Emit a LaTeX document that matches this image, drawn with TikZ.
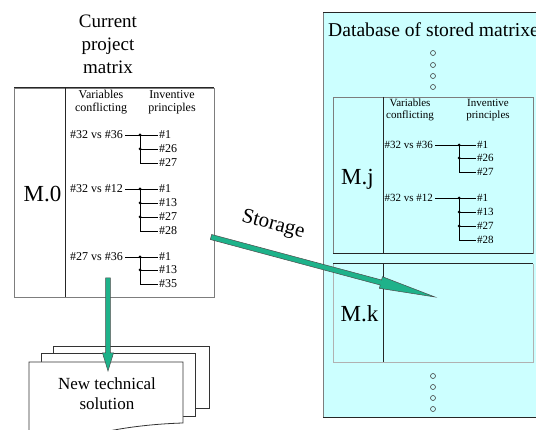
\documentclass[tikz,border=0pt]{standalone}
\usepackage{fontspec}
\setmainfont{Liberation Serif}
\usetikzlibrary{calc}
\definecolor{dbcyan}{RGB}{204,255,255}
\definecolor{arrgreen}{RGB}{30,178,138}
\definecolor{framegray}{RGB}{125,125,125}
\tikzset{
 sm/.style={font=\fontsize{12}{13}\selectfont, inner sep=0pt},
 smr/.style={font=\fontsize{11}{12}\selectfont, inner sep=0pt},
 hdr/.style={font=\fontsize{12}{13}\selectfont, align=center, inner sep=0pt},
 hdrr/.style={font=\fontsize{11}{12}\selectfont, align=center, inner sep=0pt},
 big/.style={font=\fontsize{23}{26}\selectfont, inner sep=0pt},
 tline/.style={line width=0.6pt},
 boxline/.style={draw=framegray, line width=0.9pt},
 darkline/.style={draw=black!85, line width=1pt},
 bigarrow/.style={fill=arrgreen, draw=black!70, line width=0.5pt, line join=miter},
 doc/.style={fill=white, draw=black!80, line width=0.8pt},
 dbdot/.style={circle, draw=black!75, line width=0.6pt, minimum size=5pt, inner sep=0pt},
 jdot/.style={circle, fill=black, minimum size=3pt, inner sep=0pt},
}
\begin{document}
\begin{tikzpicture}[x=1pt,y=-1pt]
\useasboundingbox (0,0) rectangle (536,430);
\fill[white] (0,0) rectangle (536,430);

% ---------- database ----------
\fill[dbcyan] (323,13) rectangle (545,418);
\draw[boxline] (323,13) -- (323,418);
\draw[darkline] (323,13) -- (545,13);
\draw[darkline] (323,418) -- (545,418);
\node[anchor=base west, inner sep=0pt, font=\fontsize{19.6}{23}\selectfont] (dbt) at (328,37) {Database of stored matrixes};
\node[dbdot] (d1) at (433,53) {};
\node[dbdot] (d2) at (433,65) {};
\node[dbdot] (d3) at (433,76) {};
\node[dbdot] (d4) at (433,87) {};
\node[dbdot] (d5) at (433,376) {};
\node[dbdot] (d6) at (433,387) {};
\node[dbdot] (d7) at (433,398) {};
\node[dbdot] (d8) at (433,409) {};

% M.j box
\draw[boxline] (333,254) -- (333,97) -- (533,97) -- (533,254);
\draw[darkline] (333,254) -- (533,254);
\draw[darkline] (383,97) -- (383,254);
\node[big, anchor=base] (mj) at (357.5,185) {M.j};
\node[hdrr] (hj1) at (410,110) {Variables\\conflicting};
\node[hdrr] (hj2) at (488,110) {Inventive\\principles};
% row 1
\node[smr,anchor=east] (b1) at (433,145) {\#32 vs \#36};
\node[smr,anchor=west] (b1x) at (477,145) {\#1};
\node[smr,anchor=west] (b1y) at (477,158) {\#26};
\node[smr,anchor=west] (b1z) at (477,172) {\#27};
\coordinate (b1j) at (459,145);
\draw[tline] ([xshift=2pt]b1.east) -- ([xshift=-1pt]b1x.west);
\draw[tline] (b1j) |- ([xshift=-1pt]b1z.west);
\draw[tline] (b1j |- b1y) -- ([xshift=-1pt]b1y.west);
\node[jdot] at (b1j) {};
\node[jdot] at (b1j |- b1y) {};
% row 2
\node[smr,anchor=east] (b2) at (433,198) {\#32 vs \#12};
\node[smr,anchor=west] (b2w) at (477,198) {\#1};
\node[smr,anchor=west] (b2x) at (477,212) {\#13};
\node[smr,anchor=west] (b2y) at (477,226) {\#27};
\node[smr,anchor=west] (b2z) at (477,240) {\#28};
\coordinate (b2j) at (459,198);
\draw[tline] ([xshift=2pt]b2.east) -- ([xshift=-1pt]b2w.west);
\draw[tline] (b2j) |- ([xshift=-1pt]b2z.west);
\draw[tline] (b2j |- b2x) -- ([xshift=-1pt]b2x.west);
\draw[tline] (b2j |- b2y) -- ([xshift=-1pt]b2y.west);
\node[jdot] at (b2j) {};
\node[jdot] at (b2j |- b2x) {};
\node[jdot] at (b2j |- b2y) {};

% M.k box
\draw[draw=framegray!60, line width=0.9pt] (333,264) -- (333,362) -- (533,362) -- (533,264);
\draw[darkline] (333,264) -- (533,264);
\draw[darkline] (383,264) -- (383,362);
\node[big, anchor=base] (mk) at (359.5,322) {M.k};

% ---------- current project matrix ----------
\node[align=center, inner sep=0pt, font=\fontsize{19}{23}\selectfont] (title) at (108,44) {Current\\project\\matrix};
\draw[boxline] (14,88) rectangle (214,297);
\draw[darkline] (14,88) -- (214,88);
\draw[darkline] (65,88) -- (65,297);
\node[big, anchor=base] (m0) at (42.5,202) {M.0};
\node[hdr] (ha1) at (101,102) {Variables\\conflicting};
\node[hdr] (ha2) at (172,102) {Inventive\\principles};
% row 1
\node[sm,anchor=east] (a1) at (123,135) {\#32 vs \#36};
\node[sm,anchor=west] (a1x) at (159,135) {\#1};
\node[sm,anchor=west] (a1y) at (159,149) {\#26};
\node[sm,anchor=west] (a1z) at (159,163) {\#27};
\coordinate (a1j) at (140,135);
\draw[tline] ([xshift=2pt]a1.east) -- ([xshift=-1pt]a1x.west);
\draw[tline] (a1j) |- ([xshift=-1pt]a1z.west);
\draw[tline] (a1j |- a1y) -- ([xshift=-1pt]a1y.west);
\node[jdot] at (a1j) {};
\node[jdot] at (a1j |- a1y) {};
% row 2
\node[sm,anchor=east] (a2) at (123,189) {\#32 vs \#12};
\node[sm,anchor=west] (a2w) at (159,189) {\#1};
\node[sm,anchor=west] (a2x) at (159,203) {\#13};
\node[sm,anchor=west] (a2y) at (159,217) {\#27};
\node[sm,anchor=west] (a2z) at (159,231) {\#28};
\coordinate (a2j) at (140,189);
\draw[tline] ([xshift=2pt]a2.east) -- ([xshift=-1pt]a2w.west);
\draw[tline] (a2j) |- ([xshift=-1pt]a2z.west);
\draw[tline] (a2j |- a2x) -- ([xshift=-1pt]a2x.west);
\draw[tline] (a2j |- a2y) -- ([xshift=-1pt]a2y.west);
\node[jdot] at (a2j) {};
\node[jdot] at (a2j |- a2x) {};
\node[jdot] at (a2j |- a2y) {};
% row 3
\node[sm,anchor=east] (a3) at (123,257) {\#27 vs \#36};
\node[sm,anchor=west] (a3x) at (159,257) {\#1};
\node[sm,anchor=west] (a3y) at (159,270) {\#13};
\node[sm,anchor=west] (a3z) at (159,284) {\#35};
\coordinate (a3j) at (140,257);
\draw[tline] ([xshift=2pt]a3.east) -- ([xshift=-1pt]a3x.west);
\draw[tline] (a3j) |- ([xshift=-1pt]a3z.west);
\draw[tline] (a3j |- a3y) -- ([xshift=-1pt]a3y.west);
\node[jdot] at (a3j) {};
\node[jdot] at (a3j |- a3y) {};

% ---------- documents ----------
\draw[doc] (53,346) rectangle (209,408);
\draw[doc] (41,353) rectangle (195,416);
\draw[doc] (29,445) -- (29,362) -- (183,362) -- (183,423)
  .. controls (150,424) and (120,428) .. (95,434)
  .. controls (70,440) and (50,445) .. (29,445) -- cycle;
\node[align=center, inner sep=0pt, font=\fontsize{17}{20}\selectfont] (nts) at (107,394) {New technical\\solution};

% ---------- arrows ----------
\coordinate (dA) at (108,278);
\coordinate (dB) at (108,371);
\coordinate (dH) at ($(dB)!18pt!(dA)$);
\draw[bigarrow] ($(dA)!2.4pt!90:(dB)$) -- ($(dH)!2.4pt!90:(dB)$) -- ($(dH)!5.5pt!90:(dB)$) -- (dB)
  -- ($(dH)!5.5pt!-90:(dB)$) -- ($(dH)!2.4pt!-90:(dB)$) -- ($(dA)!2.4pt!-90:(dB)$) -- cycle;

\coordinate (sA) at (211,237);
\coordinate (sB) at (435,297);
\coordinate (sH) at ($(sB)!56pt!(sA)$);
\draw[bigarrow] ($(sA)!2.6pt!90:(sB)$) -- ($(sH)!2.6pt!90:(sB)$) -- ($(sH)!6pt!90:(sB)$) -- (sB)
  -- ($(sH)!6pt!-90:(sB)$) -- ($(sH)!2.6pt!-90:(sB)$) -- ($(sA)!2.6pt!-90:(sB)$) -- cycle;
\node[rotate=-15, inner sep=0pt, font=\fontsize{21}{24}\selectfont] (stor) at (273,225) {Storage};
\end{tikzpicture}
\end{document}
